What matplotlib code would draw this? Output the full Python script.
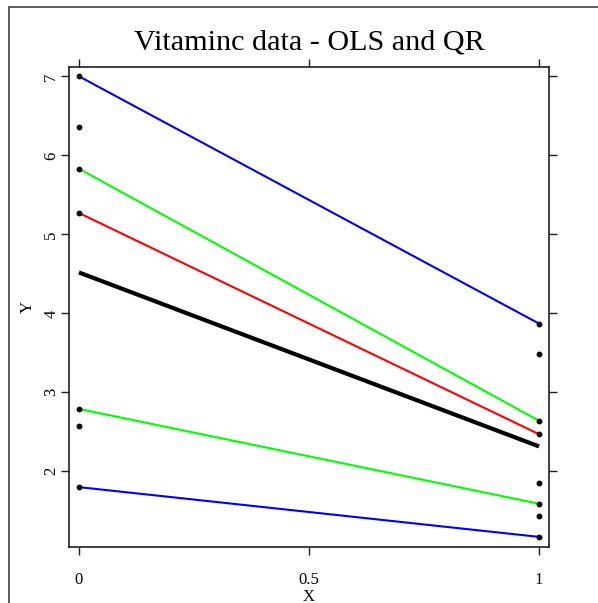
import matplotlib.pyplot as plt
import matplotlib.patches as patches
import numpy as np

# vitaminc data, two groups at x = 0 and x = 1
y_x0 = [7.00, 6.36, 5.83, 5.27, 2.79, 2.57, 1.80]
y_x1 = [3.87, 3.49, 2.64, 2.47, 1.85, 1.59, 1.44, 1.17]

# quantile regression lines: value at x=0 and at x=1
qr_at0 = [7.00, 5.83, 5.27, 2.79, 1.80]
qr_at1 = [3.87, 2.64, 2.47, 1.59, 1.17]
qr_colors = ['#0000ff', '#00ff00', '#ff0000', '#00ff00', '#0000ff']

xticks = [0, 0.5, 1]
xticklabels = ['0', '0.5', '1']
yticks = [2, 3, 4, 5, 6, 7]

plt.rcParams['font.family'] = ['Liberation Serif', 'DejaVu Serif']

W, H = 598, 603
fig = plt.figure(figsize=(W / 100, H / 100), dpi=100)

# outer frame (runs past the right and bottom edges)
fig.patches.append(patches.Rectangle((9 / W, -0.1), 1.2, 1 - 7 / H + 0.1,
                                     transform=fig.transFigure, fill=False,
                                     edgecolor='#404040', linewidth=1.2))

ax = fig.add_axes([69 / W, 1 - 547 / H, 480 / W, 480 / H])

x = np.array([0] * len(y_x0) + [1] * len(y_x1))
y = np.array(y_x0 + y_x1)

# OLS fit
slope, icept = np.polyfit(x, y, 1)
ax.plot([0, 1], [icept, icept + slope], color='black', lw=3, solid_capstyle='butt', zorder=3)

for a, b, c in zip(qr_at0, qr_at1, qr_colors):
    ax.plot([0, 1], [a, b], color=c, lw=1.5, zorder=2)

ax.plot(x, y, 'o', color='black', ms=3.2, zorder=4)

ax.set_xlim(-0.0217, 1.0217)
ax.set_ylim(1.042, 7.118)
ax.set_xticks(xticks)
ax.set_xticklabels(xticklabels)
ax.set_yticks(yticks)
ax.tick_params(direction='out', length=6, width=1, labelsize=12,
               top=True, right=True, color='#202020')
ax.tick_params(axis='x', pad=12)
ax.tick_params(axis='y', pad=1)
for lab in ax.get_yticklabels():
    lab.set_rotation(90)
    lab.set_va('center')
for s in ax.spines.values():
    s.set_linewidth(1.2)
    s.set_color('#202020')

fig.text(309 / W, 1 - 49 / H, 'Vitaminc data - OLS and QR', ha='center',
         va='baseline', fontsize=21.7)
fig.text(309 / W, 1 - 589 / H, 'X', ha='center', va='top', fontsize=12)
fig.text(28 / W, 1 - 307 / H, 'Y', ha='center', va='center', fontsize=12,
         rotation=90)

fig.savefig('out.png', dpi=100)
